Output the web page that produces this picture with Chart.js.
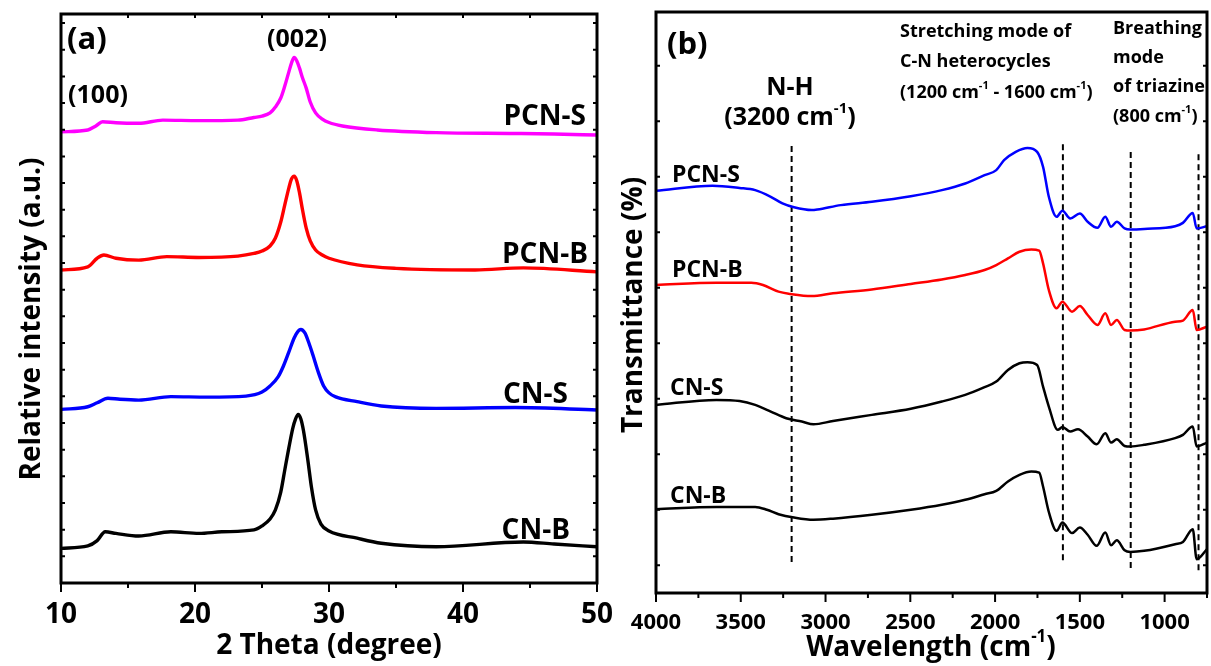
<!DOCTYPE html>
<html>
<head>
<meta charset="utf-8">
<script src="https://cdn.jsdelivr.net/npm/chart.js@4.4.0/dist/chart.umd.min.js"></script>
<style>
  body { margin: 0; background: #fff; }
  #wrap { position: relative; width: 1211px; height: 666px; overflow: hidden; }
  canvas { position: absolute; top: 0; }
  #xrd { left: 0; }
  #ftir { left: 615px; }
</style>
</head>
<body>
<div id="wrap">
  <canvas id="xrd" width="615" height="666"></canvas>
  <canvas id="ftir" width="596" height="666"></canvas>
</div>
<script>
// ---- (a) XRD, 2 theta in degree, intensity in a.u. (curves already offset)
const xrdX_PCNS = [10, 12, 12.6, 13.1, 14.1, 15.8, 17.6, 20.3, 23.2, 24.4, 25.0, 25.6, 26.0, 26.4, 26.7, 27.0, 27.2, 27.4, 27.6, 27.8, 28.0, 28.3, 28.6, 29.0, 29.5, 30.0, 31.0, 33.6, 38, 43.9, 46.8, 50];
const xrdY_PCNS = [1692, 1699, 1714, 1730, 1726, 1724, 1736, 1734, 1736, 1746, 1751, 1763, 1785, 1819, 1864, 1916, 1950, 1971, 1958, 1931, 1898, 1856, 1804, 1763, 1740, 1727, 1714, 1699, 1689, 1686, 1684, 1680];
const xrdX_PCNB = [10, 12, 12.7, 13.2, 14.1, 15.8, 17.9, 20.3, 23.2, 24.4, 25.0, 25.6, 26.0, 26.4, 26.7, 27.0, 27.2, 27.4, 27.6, 27.8, 28.0, 28.3, 28.6, 29.0, 29.5, 30.0, 32.1, 35.0, 40.9, 44.5, 50];
const xrdY_PCNB = [1174, 1186, 1218, 1230, 1218, 1211, 1224, 1221, 1226, 1236, 1245, 1264, 1294, 1354, 1418, 1481, 1515, 1526, 1508, 1463, 1406, 1331, 1283, 1249, 1230, 1218, 1193, 1180, 1174, 1182, 1167];
const xrdX_CNS = [10, 12, 12.7, 13.5, 14.4, 15.8, 18.2, 20.9, 23.8, 25.0, 25.6, 26.2, 26.6, 27.0, 27.4, 27.7, 27.9, 28.2, 28.5, 28.8, 29.2, 29.6, 30.0, 30.5, 32.1, 33.9, 38.0, 43.9, 50];
const xrdY_CNS = [651, 661, 676, 693, 689, 686, 699, 697, 701, 716, 739, 773, 814, 866, 919, 945, 951, 938, 900, 855, 791, 739, 713, 698, 680, 664, 655, 658, 649];
const xrdX_CNB = [10, 12, 12.7, 13.3, 14.1, 15.8, 18.2, 20.3, 22.0, 24.4, 25.0, 25.6, 26.0, 26.4, 26.7, 27.0, 27.3, 27.5, 27.7, 27.9, 28.1, 28.4, 28.7, 29.0, 29.4, 30.0, 32.1, 33.9, 38.0, 44.5, 46.8, 50];
const xrdY_CNB = [130, 139, 159, 192, 186, 176, 192, 186, 192, 199, 214, 240, 274, 341, 424, 506, 581, 615, 632, 615, 570, 469, 356, 274, 221, 195, 168, 149, 136, 154, 146, 136];
const xrdYTicks = [0, 100, 200, 300, 400, 500, 600, 700, 800, 900, 1000, 1100, 1200, 1300, 1400, 1500, 1600, 1700, 1800, 1900, 2000, 2100];

// ---- (b) FTIR, wavenumber in cm-1, transmittance (offset curves)
const irX_PCNS = [4000, 3667, 3507, 3415, 3323, 3254, 3186, 3082, 3048, 2910, 2727, 2497, 2314, 2176, 2062, 1993, 1947, 1878, 1809, 1752, 1717, 1683, 1637, 1603, 1557, 1500, 1454, 1396, 1350, 1316, 1282, 1236, 1202, 1121, 938, 892, 834, 811, 750];
const irY_PCNS = [67.5, 68.4, 68.0, 67.6, 66.4, 65.2, 64.5, 64.0, 64.1, 64.9, 65.5, 66.5, 67.6, 68.8, 70.3, 71.2, 73.0, 74.5, 75.2, 74.5, 71.8, 66.4, 62.8, 63.9, 62.5, 63.4, 61.9, 60.8, 62.8, 61.0, 61.9, 60.7, 60.5, 60.6, 61.1, 61.7, 63.5, 60.7, 61.1];
const irX_PCNB = [4000, 3644, 3438, 3369, 3277, 3209, 3082, 2956, 2727, 2497, 2314, 2176, 2062, 1993, 1924, 1856, 1786, 1740, 1717, 1683, 1637, 1603, 1546, 1500, 1454, 1396, 1350, 1316, 1282, 1236, 1202, 1121, 938, 892, 834, 811, 750];
const irY_PCNB = [50.5, 50.9, 50.9, 50.5, 49.3, 48.9, 48.5, 49.0, 49.7, 50.7, 51.5, 52.3, 53.2, 54.1, 55.3, 56.5, 56.9, 56.7, 54.4, 49.6, 46.3, 47.5, 45.7, 46.7, 45.1, 43.3, 45.4, 43.3, 44.2, 42.4, 42.3, 42.5, 43.9, 44.1, 46.0, 42.4, 43.0];
const irX_CNS = [4000, 3644, 3507, 3415, 3323, 3232, 3140, 3071, 2956, 2727, 2497, 2314, 2176, 2062, 1993, 1924, 1856, 1809, 1752, 1717, 1683, 1630, 1603, 1557, 1511, 1454, 1401, 1350, 1316, 1282, 1236, 1202, 1121, 938, 892, 834, 811, 750];
const irY_CNS = [28.9, 29.8, 29.6, 28.9, 27.7, 26.5, 25.9, 25.4, 26.0, 27.1, 28.2, 29.5, 30.7, 32.1, 33.1, 35.2, 36.4, 36.6, 36.1, 32.2, 28.6, 24.4, 24.9, 24.1, 24.5, 23.2, 21.8, 23.8, 22.1, 22.7, 21.5, 21.4, 21.7, 22.9, 23.5, 25.0, 21.4, 22.1];
const irX_CNB = [4000, 3644, 3415, 3346, 3277, 3186, 3071, 2956, 2727, 2497, 2314, 2176, 2062, 1993, 1924, 1856, 1786, 1740, 1717, 1683, 1637, 1603, 1546, 1500, 1454, 1401, 1350, 1316, 1282, 1236, 1202, 1121, 938, 892, 834, 811, 750];
const irY_CNB = [10.1, 10.5, 10.5, 10.0, 9.2, 8.6, 8.2, 8.4, 9.1, 10.0, 10.9, 11.8, 12.8, 13.4, 15.1, 16.3, 16.9, 16.7, 14.2, 9.6, 6.2, 7.7, 5.8, 6.8, 5.5, 3.5, 5.9, 3.6, 4.5, 2.7, 2.4, 2.6, 3.8, 4.2, 6.5, 1.1, 2.9];
const irYTicks = [0, 10, 20, 30, 40, 50, 60, 70, 80, 90];

// marker lines (cm-1) and their vertical extent
const markX = [3200, 1600, 1200, 800];
const markTop = [76.1, 76.3, 74.8, 74.5];
const markBottom = [0.6, 0.9, -0.5, -0.9];

const FONT = '"Open Sans", "DejaVu Sans", sans-serif';

function pts(xs, ys) {
    return xs.map((x, i) => ({ x: x, y: ys[i] }));
}

// text with "^" pieces drawn as superscripts
function drawRich(ctx, parts, x, y, size, align) {
    const widths = parts.map(p => {
        const sup = p.startsWith('^');
        ctx.font = `bold ${sup ? Math.round(size * 0.6) : size}px ${FONT}`;
        return ctx.measureText(sup ? p.slice(1) : p).width;
    });
    const total = widths.reduce((a, b) => a + b, 0);
    let cx = align === 'center' ? x - total / 2 : align === 'right' ? x - total : x;
    ctx.textAlign = 'left';
    ctx.textBaseline = 'middle';
    parts.forEach((p, i) => {
        const sup = p.startsWith('^');
        ctx.font = `bold ${sup ? Math.round(size * 0.6) : size}px ${FONT}`;
        ctx.fillText(sup ? p.slice(1) : p, cx, sup ? y - size * 0.38 : y);
        cx += widths[i];
    });
}

// box, inside ticks on y, outside ticks on x, then labels
const framePlugin = {
    id: 'frame',
    afterDatasetsDraw(chart, args, o) {
        const { ctx, chartArea: a, scales } = chart;
        const xs = scales.x, ys = scales.y;
        ctx.save();
        ctx.strokeStyle = '#000';
        ctx.lineWidth = 2;
        ctx.beginPath();
        xs.ticks.forEach(t => {
            const px = xs.getPixelForValue(t.value);
            const major = t.value % o.xMajor === 0;
            ctx.moveTo(px, a.bottom);
            ctx.lineTo(px, a.bottom + (major ? 9 : 5));
            if (o.topTicks) {
                ctx.moveTo(px, a.top);
                ctx.lineTo(px, a.top + 4);
            }
        });
        o.yTicks.forEach(v => {
            const py = ys.getPixelForValue(v);
            ctx.moveTo(a.left, py);
            ctx.lineTo(a.left + 4, py);
            ctx.moveTo(a.right, py);
            ctx.lineTo(a.right - 4, py);
        });
        ctx.stroke();
        ctx.lineWidth = 3;
        ctx.strokeRect(a.left, a.top, a.right - a.left, a.bottom - a.top);

        ctx.fillStyle = '#000';
        o.texts.forEach(t => {
            if (t.rotate) {
                ctx.save();
                ctx.translate(t.x, t.y);
                ctx.rotate(-Math.PI / 2);
                drawRich(ctx, t.parts, 0, 0, t.size, 'center');
                ctx.restore();
            } else {
                drawRich(ctx, t.parts, t.x, t.y, t.size, t.align || 'left');
            }
        });
        ctx.restore();
    }
};

function line(label, data, color, width) {
    return {
        label: label,
        data: data,
        borderColor: color,
        borderWidth: width,
        pointRadius: 0,
        fill: false,
        cubicInterpolationMode: 'monotone'
    };
}

// fixed box sizes, and no extra room for the end tick labels
function fixX(h) {
    return s => { s.height = h; s.paddingLeft = 0; s.paddingRight = 0; };
}
function fixY(w) {
    return s => { s.width = w; s.paddingTop = 0; s.paddingBottom = 0; };
}

// ---------------- (a)
new Chart(document.getElementById('xrd'), {
    type: 'line',
    data: {
        datasets: [
            line('PCN-S', pts(xrdX_PCNS, xrdY_PCNS), '#ff00ff', 3.4),
            line('PCN-B', pts(xrdX_PCNB, xrdY_PCNB), '#ff0000', 3.4),
            line('CN-S', pts(xrdX_CNS, xrdY_CNS), '#0000ff', 3.4),
            line('CN-B', pts(xrdX_CNB, xrdY_CNB), '#000000', 3.4)
        ]
    },
    options: {
        responsive: false,
        animation: false,
        layout: { padding: { left: 0, right: 18, top: 14, bottom: 0 } },
        plugins: {
            legend: { display: false },
            tooltip: { enabled: false },
            frame: {
                xMajor: 10,
                topTicks: true,
                yTicks: xrdYTicks,
                texts: [
                    { parts: ['(a)'], x: 67, y: 40, size: 31 },
                    { parts: ['(002)'], x: 297, y: 40, size: 25, align: 'center' },
                    { parts: ['(100)'], x: 98, y: 96, size: 25, align: 'center' },
                    { parts: ['PCN-S'], x: 586, y: 117, size: 28, align: 'right' },
                    { parts: ['PCN-B'], x: 588, y: 255, size: 28, align: 'right' },
                    { parts: ['CN-S'], x: 568, y: 395, size: 28, align: 'right' },
                    { parts: ['CN-B'], x: 570, y: 531, size: 28, align: 'right' },
                    { parts: ['2 Theta (degree)'], x: 329, y: 646, size: 28, align: 'center' },
                    { parts: ['Relative intensity (a.u.)'], x: 32, y: 319, size: 28, rotate: true }
                ]
            }
        },
        scales: {
            x: {
                type: 'linear',
                min: 10,
                max: 50,
                ticks: {
                    stepSize: 5,
                    autoSkip: false,
                    maxRotation: 0,
                    padding: 15,
                    color: '#000',
                    font: { family: FONT, size: 28, weight: 'bold' },
                    callback: v => (v % 10 === 0 ? v : '')
                },
                grid: { display: false, drawTicks: false },
                border: { display: false },
                afterFit: fixX(83)
            },
            y: {
                min: 0,
                max: 2134,
                ticks: { display: false },
                grid: { display: false, drawTicks: false },
                border: { display: false },
                afterFit: fixY(61)
            }
        }
    },
    plugins: [framePlugin]
});

// ---------------- (b)
const markSets = markX.map((x, i) => ({
    data: [{ x: x, y: markBottom[i] }, { x: x, y: markTop[i] }],
    borderColor: '#000',
    borderWidth: 2,
    borderDash: [6, 4],
    pointRadius: 0,
    fill: false
}));

new Chart(document.getElementById('ftir'), {
    type: 'line',
    data: {
        datasets: [
            line('PCN-S', pts(irX_PCNS, irY_PCNS), '#0000ff', 2.5),
            line('PCN-B', pts(irX_PCNB, irY_PCNB), '#ff0000', 2.5),
            line('CN-S', pts(irX_CNS, irY_CNS), '#000000', 2.5),
            line('CN-B', pts(irX_CNB, irY_CNB), '#000000', 2.5)
        ].concat(markSets)
    },
    options: {
        responsive: false,
        animation: false,
        layout: { padding: { left: 0, right: 4, top: 12, bottom: 0 } },
        plugins: {
            legend: { display: false },
            tooltip: { enabled: false },
            frame: {
                xMajor: 500,
                topTicks: false,
                yTicks: irYTicks,
                texts: [
                    { parts: ['(b)'], x: 52, y: 45, size: 31 },
                    { parts: ['N-H'], x: 175, y: 88, size: 25, align: 'center' },
                    { parts: ['(3200 cm', '^-1', ')'], x: 175, y: 118, size: 25, align: 'center' },
                    { parts: ['Stretching mode of'], x: 285, y: 32, size: 18 },
                    { parts: ['C-N heterocycles'], x: 285, y: 62, size: 18 },
                    { parts: ['(1200 cm', '^-1', ' - 1600 cm', '^-1', ')'], x: 285, y: 93, size: 18 },
                    { parts: ['Breathing'], x: 498, y: 29, size: 18 },
                    { parts: ['mode'], x: 498, y: 58, size: 18 },
                    { parts: ['of triazine'], x: 498, y: 87, size: 18 },
                    { parts: ['(800 cm', '^-1', ')'], x: 498, y: 117, size: 18 },
                    { parts: ['PCN-S'], x: 57, y: 175, size: 23 },
                    { parts: ['PCN-B'], x: 57, y: 270, size: 23 },
                    { parts: ['CN-S'], x: 55, y: 388, size: 23 },
                    { parts: ['CN-B'], x: 55, y: 496, size: 23 },
                    { parts: ['Wavelength (cm', '^-1', ')'], x: 316, y: 648, size: 28, align: 'center' },
                    { parts: ['Transmittance (%)'], x: 19, y: 305, size: 28, rotate: true }
                ]
            }
        },
        scales: {
            x: {
                type: 'linear',
                reverse: true,
                min: 750,
                max: 4000,
                ticks: {
                    stepSize: 250,
                    autoSkip: false,
                    maxRotation: 0,
                    padding: 17,
                    color: '#000',
                    font: { family: FONT, size: 22, weight: 'bold' },
                    callback: v => (v % 500 === 0 ? v : '')
                },
                grid: { display: false, drawTicks: false },
                border: { display: false },
                afterFit: fixX(73)
            },
            y: {
                min: -5,
                max: 99.7,
                ticks: { display: false },
                grid: { display: false, drawTicks: false },
                border: { display: false },
                afterFit: fixY(41)
            }
        }
    },
    plugins: [framePlugin]
});
</script>
</body>
</html>
